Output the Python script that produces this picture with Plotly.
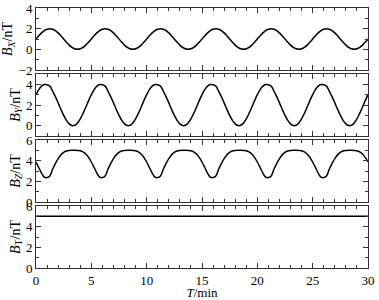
import plotly.graph_objects as go
from plotly.subplots import make_subplots

# sample grid (min), step 0.25
T_MIN = [i * 0.25 for i in range(121)]

BX = [
    1.00, 1.31, 1.59, 1.81, 1.95, 2.00, 1.95, 1.81, 1.59, 1.31, 1.00, 0.69, 0.41, 0.19, 0.05, 0.00, 0.05, 0.19, 0.41, 0.69,
    1.00, 1.31, 1.59, 1.81, 1.95, 2.00, 1.95, 1.81, 1.59, 1.31, 1.00, 0.69, 0.41, 0.19, 0.05, 0.00, 0.05, 0.19, 0.41, 0.69,
    1.00, 1.31, 1.59, 1.81, 1.95, 2.00, 1.95, 1.81, 1.59, 1.31, 1.00, 0.69, 0.41, 0.19, 0.05, 0.00, 0.05, 0.19, 0.41, 0.69,
    1.00, 1.31, 1.59, 1.81, 1.95, 2.00, 1.95, 1.81, 1.59, 1.31, 1.00, 0.69, 0.41, 0.19, 0.05, 0.00, 0.05, 0.19, 0.41, 0.69,
    1.00, 1.31, 1.59, 1.81, 1.95, 2.00, 1.95, 1.81, 1.59, 1.31, 1.00, 0.69, 0.41, 0.19, 0.05, 0.00, 0.05, 0.19, 0.41, 0.69,
    1.00, 1.31, 1.59, 1.81, 1.95, 2.00, 1.95, 1.81, 1.59, 1.31, 1.00, 0.69, 0.41, 0.19, 0.05, 0.00, 0.05, 0.19, 0.41, 0.69,
    1.00,
]

BY = [
    3.00, 3.49, 3.83, 3.99, 3.96, 3.83, 3.34, 2.81, 2.21, 1.58, 1.00, 0.51, 0.17, 0.01, 0.04, 0.27, 0.66, 1.19, 1.79, 2.42,
    3.00, 3.49, 3.83, 3.99, 3.96, 3.83, 3.34, 2.81, 2.21, 1.58, 1.00, 0.51, 0.17, 0.01, 0.04, 0.27, 0.66, 1.19, 1.79, 2.42,
    3.00, 3.49, 3.83, 3.99, 3.96, 3.83, 3.34, 2.81, 2.21, 1.58, 1.00, 0.51, 0.17, 0.01, 0.04, 0.27, 0.66, 1.19, 1.79, 2.42,
    3.00, 3.49, 3.83, 3.99, 3.96, 3.83, 3.34, 2.81, 2.21, 1.58, 1.00, 0.51, 0.17, 0.01, 0.04, 0.27, 0.66, 1.19, 1.79, 2.42,
    3.00, 3.49, 3.83, 3.99, 3.96, 3.83, 3.34, 2.81, 2.21, 1.58, 1.00, 0.51, 0.17, 0.01, 0.04, 0.27, 0.66, 1.19, 1.79, 2.42,
    3.00, 3.49, 3.83, 3.99, 3.96, 3.83, 3.34, 2.81, 2.21, 1.58, 1.00, 0.51, 0.17, 0.01, 0.04, 0.27, 0.66, 1.19, 1.79, 2.42,
    3.00,
]

BZ = [
    3.87, 3.34, 2.80, 2.41, 2.36, 2.52, 3.17, 3.72, 4.20, 4.56, 4.80, 4.93, 4.98, 5.00, 5.00, 4.99, 4.96, 4.85, 4.65, 4.32,
    3.87, 3.34, 2.80, 2.41, 2.36, 2.52, 3.17, 3.72, 4.20, 4.56, 4.80, 4.93, 4.98, 5.00, 5.00, 4.99, 4.96, 4.85, 4.65, 4.32,
    3.87, 3.34, 2.80, 2.41, 2.36, 2.52, 3.17, 3.72, 4.20, 4.56, 4.80, 4.93, 4.98, 5.00, 5.00, 4.99, 4.96, 4.85, 4.65, 4.32,
    3.87, 3.34, 2.80, 2.41, 2.36, 2.52, 3.17, 3.72, 4.20, 4.56, 4.80, 4.93, 4.98, 5.00, 5.00, 4.99, 4.96, 4.85, 4.65, 4.32,
    3.87, 3.34, 2.80, 2.41, 2.36, 2.52, 3.17, 3.72, 4.20, 4.56, 4.80, 4.93, 4.98, 5.00, 5.00, 4.99, 4.96, 4.85, 4.65, 4.32,
    3.87, 3.34, 2.80, 2.41, 2.36, 2.52, 3.17, 3.72, 4.20, 4.56, 4.80, 4.93, 4.98, 5.00, 5.00, 4.99, 4.96, 4.85, 4.65, 4.32,
    3.87,
]

BT = [5.0] * 121  # constant total field

SERIES = [BX, BY, BZ, BT]
Y_TITLES = [
    "<i>B</i><sub><i>X</i></sub>/nT",
    "<i>B</i><sub><i>Y</i></sub>/nT",
    "<i>B</i><sub><i>Z</i></sub>/nT",
    "<i>B</i><sub>T</sub>/nT",
]
Y_RANGES = [[-2, 4], [-1, 5], [0, 6], [0, 6]]
Y_TICKS = [[-2, 0, 2, 4], [0, 2, 4], [0, 2, 4, 6], [0, 2, 4, 6]]
X_TICKS = [0, 5, 10, 15, 20, 25, 30]

FONT = "Times New Roman"
FS = 13
AX = "#333333"

fig = make_subplots(rows=4, cols=1, shared_xaxes=True, vertical_spacing=4 / 260)

for i, ys in enumerate(SERIES):
    fig.add_trace(
        go.Scatter(x=T_MIN, y=ys, mode="lines", line=dict(color="black", width=1.5, shape="spline"),
                   showlegend=False, hoverinfo="skip"),
        row=i + 1, col=1,
    )
    fig.update_yaxes(
        range=Y_RANGES[i], tickvals=Y_TICKS[i], ticks="inside", ticklen=5, tickcolor=AX,
        minor=dict(dtick=1, ticks="inside", ticklen=3, tickcolor=AX),
        showline=True, linecolor=AX, linewidth=1, mirror="ticks",
        showgrid=False, zeroline=False, automargin=False,
        tickfont=dict(family=FONT, size=FS, color="black"),
        title=dict(text=Y_TITLES[i], font=dict(family=FONT, size=14, color="black"), standoff=2),
        row=i + 1, col=1,
    )
    fig.update_xaxes(
        range=[0, 30], tickvals=X_TICKS, ticks="inside", ticklen=5, tickcolor=AX,
        minor=dict(dtick=1, ticks="inside", ticklen=3, tickcolor=AX),
        showline=True, linecolor=AX, linewidth=1, mirror="ticks",
        showgrid=False, zeroline=False, automargin=False,
        tickfont=dict(family=FONT, size=FS, color="black"),
        row=i + 1, col=1,
    )

fig.update_xaxes(title=dict(text="<i>T</i>/min", font=dict(family=FONT, size=FS, color="black"), standoff=3),
                 row=4, col=1)

fig.update_layout(
    width=379, height=300,
    margin=dict(l=36, r=11, t=8, b=32),
    paper_bgcolor="white", plot_bgcolor="white",
    font=dict(family=FONT, size=FS, color="black"),
)

fig.write_html("out.html", config={"displayModeBar": False},
               post_script="document.body.style.margin='0';")
